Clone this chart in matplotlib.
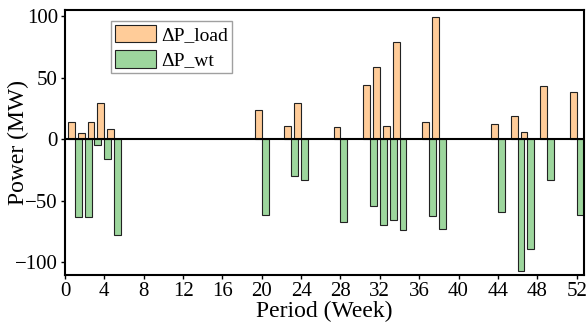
import matplotlib
matplotlib.use("Agg")
import matplotlib.pyplot as plt
import numpy as np

# weeks with a deviation, and the two deviations (MW)
weeks = [1, 2, 3, 4, 5, 20, 23, 24, 28, 31, 32, 33, 34, 37, 38, 44, 46, 47, 49, 52]
dp_load = [14, 5, 14, 29, 8, 24, 11, 29, 9.5, 44, 59, 11, 79, 14, 99, 12, 19, 6, 43, 38.5]
dp_wt = [-63, -63, -5, -16.5, -78, -62, -30, -33, -67.5, -54, -69.5, -66, -73.5,
         -62.5, -73, -59.5, -107, -89, -33.5, -61.5]
xticks = list(range(0, 53, 4))
yticks = [-100, -50, 0, 50, 100]

plt.rcParams['font.family'] = ['Liberation Serif', 'DejaVu Serif']

fig = plt.figure(figsize=(5.87, 3.34), dpi=100)
ax = fig.add_axes([0.1107, 0.1766, 0.8842, 0.7934])

w = np.array(weeks)
width = 0.7
ax.bar(w - width / 2, dp_load, width=width, color='#ffcc99', edgecolor='#222222',
       linewidth=0.8, label='ΔP_load')
ax.bar(w + width / 2, dp_wt, width=width, color='#9dd69d', edgecolor='#222222',
       linewidth=0.8, label='ΔP_wt')
ax.axhline(0, color='black', linewidth=1.5, zorder=3)

ax.set_xlim(0, 52.75)
ax.set_ylim(-110.5, 105)
ax.set_xticks(xticks)
ax.set_yticks(yticks)
ax.tick_params(labelsize=15, length=3, width=1, direction='out', pad=2)
for s in ax.spines.values():
    s.set_linewidth(1.5)

ax.set_xlabel('Period (Week)', fontsize=17, labelpad=0)
ax.set_ylabel('Power (MW)', fontsize=17, va='center')
ax.yaxis.set_label_coords(-0.09, 0.5)

leg = ax.legend(loc='upper left', bbox_to_anchor=(0.088, 0.958), fontsize=14,
                fancybox=False, edgecolor='#888888', handlelength=2.15,
                handleheight=1.0, borderpad=0.2, labelspacing=0.3,
                handletextpad=0.25, borderaxespad=0)
leg.get_frame().set_linewidth(1.0)

fig.savefig('out.png', dpi=100)
